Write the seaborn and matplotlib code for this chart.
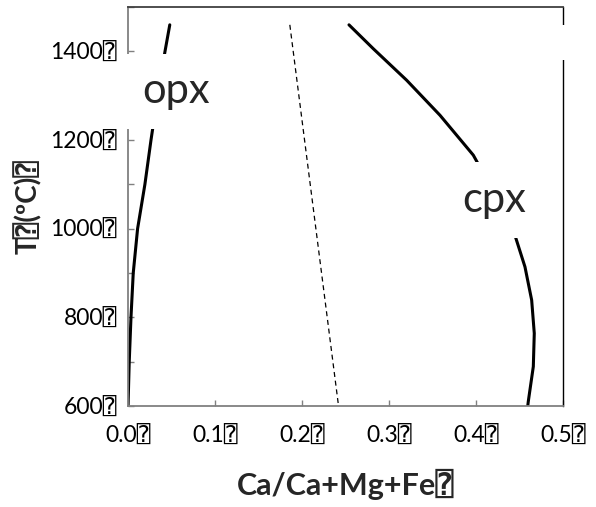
import matplotlib
matplotlib.use("Agg")
import matplotlib.pyplot as plt
import matplotlib.ticker as mticker
from matplotlib.patches import Rectangle
import pandas as pd
import seaborn as sns

# opx limb (x = Ca/(Ca+Mg+Fe), T in deg C)
opx_T = [600, 700, 800, 900, 1000, 1100, 1200, 1300, 1400, 1460]
opx_x = [0.0, 0.0014, 0.0034, 0.006, 0.011, 0.0194, 0.0264, 0.034, 0.0425, 0.048]

# cpx limb
cpx_T = [1460, 1406, 1335, 1256, 1166, 1070, 985, 914, 839, 764, 689, 610, 600]
cpx_x = [0.254, 0.282, 0.3203, 0.3586, 0.3969, 0.424, 0.4448, 0.4563, 0.464,
         0.467, 0.4659, 0.4601, 0.4595]

# dashed divide
div_T = [1460, 600]
div_x = [0.186, 0.242]

x_ticks = [0.0, 0.1, 0.2, 0.3, 0.4, 0.5]
y_ticks = [600, 800, 1000, 1200, 1400]
box = "\u2370"

sns.set_style("white")
plt.rcParams['font.family'] = ['Lato', 'DejaVu Sans', 'DejaVu Sans Mono']

fig = plt.figure(figsize=(5.96, 5.07), dpi=100)
ax = fig.add_axes([0.2148, 0.1992, 0.7298, 0.7868])

opx = pd.DataFrame({"x": opx_x, "T": opx_T})
cpx = pd.DataFrame({"x": cpx_x, "T": cpx_T})
div = pd.DataFrame({"x": div_x, "T": div_T})

sns.lineplot(data=opx, x="x", y="T", sort=False, estimator=None, color="black",
             linewidth=2.2, ax=ax)
sns.lineplot(data=cpx, x="x", y="T", sort=False, estimator=None, color="black",
             linewidth=2.2, ax=ax)
sns.lineplot(data=div, x="x", y="T", sort=False, estimator=None, color="black",
             linewidth=0.9, ax=ax)
ax.lines[-1].set_dashes((4, 3))

ax.set_xlim(0, 0.5)
ax.set_ylim(600, 1500)
ax.set_xticks(x_ticks)
ax.set_xticklabels([f"{v:.1f}{box}" for v in x_ticks])
ax.set_yticks(y_ticks)
ax.set_yticklabels([f"{v}{box}" for v in y_ticks])
ax.yaxis.set_minor_locator(mticker.MultipleLocator(100))

ax.tick_params(axis="both", which="both", direction="in", length=4, width=1,
               color="#808080", labelsize=16.5, labelcolor="black")
ax.tick_params(axis="x", pad=14)
ax.tick_params(axis="y", pad=8)
ax.tick_params(axis="y", which="minor", left=True)
ax.tick_params(axis="x", bottom=True)
ax.tick_params(axis="y", left=True)

for side in ["left", "bottom"]:
    ax.spines[side].set_color("#808080")
    ax.spines[side].set_linewidth(1.3)
ax.spines["top"].set_color("#404040")
ax.spines["top"].set_linewidth(1.3)
ax.spines["right"].set_color("black")
ax.spines["right"].set_linewidth(1.0)

ax.set_xlabel("Ca/Ca+Mg+Fe" + box, fontsize=22, fontweight="bold", labelpad=16)
ax.set_ylabel("T" + box + "(ºC)" + box, fontsize=20, fontweight="bold", labelpad=6)

bb = dict(facecolor="white", edgecolor="none", boxstyle="square,pad=0.45")
ax.text(0.0552, 1283, "opx", fontsize=30, ha="center", va="baseline", bbox=bb,
        zorder=5, clip_on=False)
ax.text(0.4213, 1038, "cpx", fontsize=30, ha="center", va="baseline", bbox=bb,
        zorder=5, clip_on=False)
ax.add_patch(Rectangle((0.98, 0.867), 0.04, 0.088, transform=ax.transAxes,
                       facecolor="white", edgecolor="none", zorder=5, clip_on=False))

fig.savefig("out.png", dpi=100)
